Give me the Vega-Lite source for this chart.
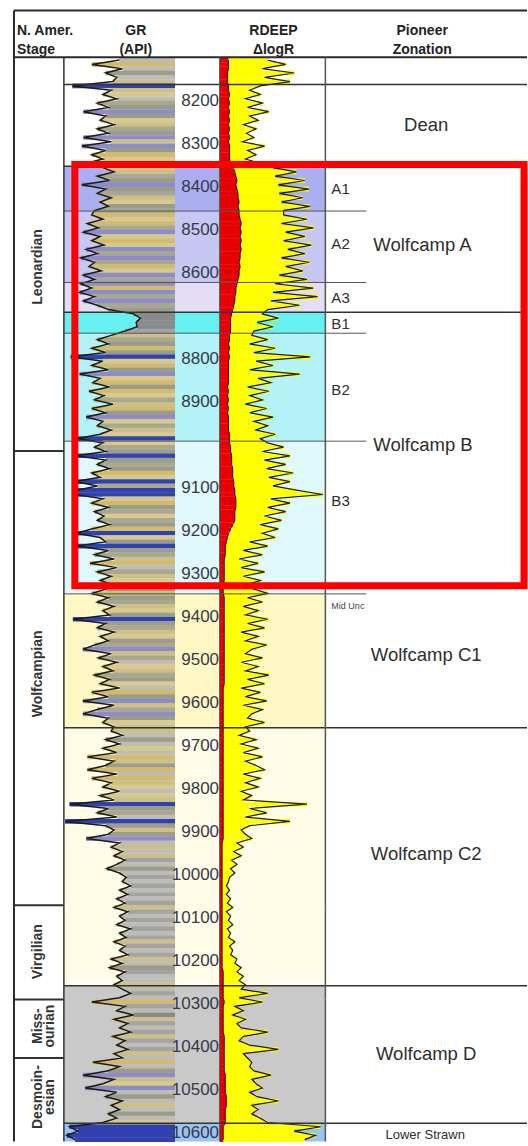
{
  "$schema": "https://vega.github.io/schema/vega-lite/v6.json",
  "width": 528,
  "height": 1146,
  "autosize": {"type": "fit", "contains": "padding"},
  "padding": 0,
  "background": "white",
  "config": {
    "view": {"stroke": null},
    "bar": {"continuousBandSize": 4.6},
    "text": {"font": "Liberation Sans"}
  },
  "datasets": {
    "log": [
      {"d":8105,"g":100,"r":45,"k":8},{"d":8115,"g":150,"r":62,"k":8},{"d":8125,"g":95,"r":40,"k":8},{"d":8135,"g":125,"r":70,"k":7},{"d":8145,"g":105,"r":42,"k":7},{"d":8155,"g":112,"r":66,"k":7},
      {"d":8165,"g":185,"r":38,"k":8},{"d":8175,"g":115,"r":28,"k":8},{"d":8185,"g":130,"r":38,"k":9},{"d":8195,"g":105,"r":24,"k":8},{"d":8205,"g":140,"r":40,"k":9},{"d":8215,"g":120,"r":26,"k":8},
      {"d":8225,"g":165,"r":46,"k":9},{"d":8235,"g":125,"r":28,"k":8},{"d":8245,"g":135,"r":36,"k":9},{"d":8255,"g":110,"r":22,"k":8},{"d":8265,"g":140,"r":34,"k":9},{"d":8275,"g":120,"r":25,"k":8},
      {"d":8285,"g":165,"r":32,"k":9},{"d":8295,"g":115,"r":21,"k":8},{"d":8305,"g":168,"r":42,"k":9},{"d":8315,"g":125,"r":26,"k":9},{"d":8325,"g":150,"r":34,"k":9},{"d":8335,"g":130,"r":24,"k":9},
      {"d":8345,"g":160,"r":38,"k":10},{"d":8355,"g":130,"r":50,"k":12},{"d":8365,"g":110,"r":72,"k":14},{"d":8375,"g":140,"r":52,"k":15},{"d":8385,"g":118,"r":80,"k":16},{"d":8395,"g":168,"r":55,"k":15},
      {"d":8405,"g":125,"r":84,"k":16},{"d":8415,"g":140,"r":56,"k":17},{"d":8425,"g":115,"r":78,"k":17},{"d":8435,"g":135,"r":58,"k":18},{"d":8445,"g":120,"r":85,"k":17},{"d":8455,"g":145,"r":60,"k":18},
      {"d":8465,"g":150,"r":60,"k":18},{"d":8475,"g":130,"r":82,"k":19},{"d":8485,"g":158,"r":58,"k":20},{"d":8495,"g":138,"r":88,"k":19},{"d":8505,"g":165,"r":62,"k":20},{"d":8515,"g":135,"r":80,"k":19},
      {"d":8525,"g":150,"r":60,"k":20},{"d":8535,"g":128,"r":86,"k":19},{"d":8545,"g":160,"r":64,"k":20},{"d":8555,"g":140,"r":80,"k":19},{"d":8565,"g":170,"r":58,"k":19},{"d":8575,"g":145,"r":84,"k":18},
      {"d":8585,"g":155,"r":62,"k":19},{"d":8595,"g":133,"r":78,"k":18},{"d":8605,"g":165,"r":56,"k":18},{"d":8615,"g":145,"r":82,"k":17},{"d":8625,"g":170,"r":52,"k":16},{"d":8635,"g":150,"r":88,"k":15},
      {"d":8645,"g":172,"r":50,"k":15},{"d":8655,"g":145,"r":92,"k":14},{"d":8665,"g":165,"r":48,"k":14},{"d":8675,"g":140,"r":75,"k":13},{"d":8685,"g":120,"r":45,"k":12},{"d":8695,"g":75,"r":40,"k":11},
      {"d":8705,"g":62,"r":55,"k":10},{"d":8715,"g":70,"r":35,"k":10},{"d":8725,"g":68,"r":50,"k":10},{"d":8735,"g":90,"r":32,"k":10},{"d":8745,"g":115,"r":30,"k":9},{"d":8755,"g":140,"r":45,"k":9},
      {"d":8765,"g":120,"r":28,"k":8},{"d":8775,"g":150,"r":52,"k":9},{"d":8785,"g":125,"r":32,"k":8},{"d":8795,"g":188,"r":85,"k":9},{"d":8805,"g":130,"r":34,"k":8},{"d":8815,"g":150,"r":50,"k":8},
      {"d":8825,"g":120,"r":28,"k":8},{"d":8835,"g":172,"r":75,"k":8},{"d":8845,"g":135,"r":36,"k":8},{"d":8855,"g":148,"r":48,"k":8},{"d":8865,"g":118,"r":26,"k":7},{"d":8875,"g":155,"r":46,"k":8},
      {"d":8885,"g":128,"r":28,"k":7},{"d":8895,"g":145,"r":40,"k":8},{"d":8905,"g":112,"r":24,"k":7},{"d":8915,"g":150,"r":44,"k":8},{"d":8925,"g":125,"r":28,"k":7},{"d":8935,"g":160,"r":50,"k":8},
      {"d":8945,"g":130,"r":32,"k":8},{"d":8955,"g":140,"r":45,"k":8},{"d":8965,"g":115,"r":34,"k":8},{"d":8975,"g":135,"r":52,"k":9},{"d":8985,"g":175,"r":38,"k":9},{"d":8995,"g":130,"r":45,"k":9},
      {"d":9005,"g":145,"r":60,"k":10},{"d":9015,"g":125,"r":40,"k":10},{"d":9025,"g":178,"r":66,"k":11},{"d":9035,"g":125,"r":42,"k":11},{"d":9045,"g":140,"r":62,"k":11},{"d":9055,"g":118,"r":44,"k":12},
      {"d":9065,"g":150,"r":69,"k":12},{"d":9075,"g":135,"r":46,"k":12},{"d":9085,"g":180,"r":66,"k":13},{"d":9095,"g":140,"r":50,"k":13},{"d":9105,"g":176,"r":72,"k":14},{"d":9115,"g":180,"r":97,"k":14},
      {"d":9125,"g":130,"r":48,"k":15},{"d":9135,"g":150,"r":66,"k":15},{"d":9145,"g":120,"r":45,"k":15},{"d":9155,"g":145,"r":62,"k":14},{"d":9165,"g":128,"r":42,"k":14},{"d":9175,"g":140,"r":58,"k":14},
      {"d":9185,"g":118,"r":38,"k":12},{"d":9195,"g":150,"r":55,"k":10},{"d":9205,"g":178,"r":40,"k":8},{"d":9215,"g":135,"r":52,"k":7},{"d":9225,"g":125,"r":28,"k":6},{"d":9235,"g":178,"r":45,"k":5},
      {"d":9245,"g":120,"r":22,"k":5},{"d":9255,"g":145,"r":40,"k":5},{"d":9265,"g":110,"r":18,"k":4},{"d":9275,"g":153,"r":36,"k":4},{"d":9285,"g":105,"r":20,"k":4},{"d":9295,"g":140,"r":42,"k":4},
      {"d":9305,"g":115,"r":22,"k":4},{"d":9315,"g":135,"r":38,"k":4},{"d":9325,"g":110,"r":24,"k":3},{"d":9335,"g":125,"r":32,"k":3},{"d":9345,"g":150,"r":45,"k":3},{"d":9355,"g":120,"r":26,"k":4},
      {"d":9365,"g":140,"r":40,"k":4},{"d":9375,"g":110,"r":22,"k":4},{"d":9385,"g":130,"r":36,"k":4},{"d":9395,"g":118,"r":24,"k":4},{"d":9405,"g":184,"r":45,"k":4},{"d":9415,"g":125,"r":26,"k":4},
      {"d":9425,"g":140,"r":42,"k":4},{"d":9435,"g":110,"r":20,"k":4},{"d":9445,"g":135,"r":36,"k":4},{"d":9455,"g":120,"r":24,"k":4},{"d":9465,"g":145,"r":44,"k":4},{"d":9475,"g":166,"r":30,"k":4},
      {"d":9485,"g":115,"r":24,"k":4},{"d":9495,"g":138,"r":40,"k":4},{"d":9505,"g":105,"r":20,"k":4},{"d":9515,"g":130,"r":36,"k":4},{"d":9525,"g":112,"r":24,"k":4},{"d":9535,"g":145,"r":46,"k":4},
      {"d":9545,"g":118,"r":26,"k":4},{"d":9555,"g":135,"r":42,"k":4},{"d":9565,"g":100,"r":20,"k":3},{"d":9575,"g":150,"r":38,"k":3},{"d":9585,"g":120,"r":24,"k":3},{"d":9595,"g":166,"r":44,"k":3},
      {"d":9605,"g":110,"r":22,"k":3},{"d":9615,"g":140,"r":40,"k":3},{"d":9625,"g":166,"r":30,"k":3},{"d":9635,"g":120,"r":26,"k":3},{"d":9645,"g":130,"r":42,"k":3},{"d":9655,"g":110,"r":24,"k":3},
      {"d":9665,"g":115,"r":28,"k":3},{"d":9675,"g":95,"r":18,"k":3},{"d":9685,"g":125,"r":34,"k":3},{"d":9695,"g":100,"r":20,"k":3},{"d":9705,"g":130,"r":36,"k":3},{"d":9715,"g":105,"r":22,"k":3},
      {"d":9725,"g":158,"r":40,"k":3},{"d":9735,"g":110,"r":24,"k":3},{"d":9745,"g":125,"r":34,"k":3},{"d":9755,"g":158,"r":42,"k":3},{"d":9765,"g":105,"r":22,"k":3},{"d":9775,"g":150,"r":38,"k":3},
      {"d":9785,"g":115,"r":24,"k":3},{"d":9795,"g":130,"r":36,"k":3},{"d":9805,"g":100,"r":20,"k":3},{"d":9815,"g":135,"r":30,"k":3},{"d":9825,"g":110,"r":22,"k":3},{"d":9835,"g":190,"r":82,"k":3},
      {"d":9845,"g":120,"r":28,"k":3},{"d":9855,"g":140,"r":44,"k":3},{"d":9865,"g":105,"r":24,"k":3},{"d":9875,"g":198,"r":66,"k":3},{"d":9885,"g":125,"r":28,"k":3},{"d":9895,"g":110,"r":20,"k":3},
      {"d":9905,"g":120,"r":24,"k":3},{"d":9915,"g":160,"r":30,"k":3},{"d":9925,"g":100,"r":16,"k":2},{"d":9935,"g":115,"r":22,"k":2},{"d":9945,"g":95,"r":13,"k":2},{"d":9955,"g":110,"r":20,"k":2},
      {"d":9965,"g":90,"r":11,"k":2},{"d":9975,"g":105,"r":16,"k":2},{"d":9985,"g":123,"r":10,"k":2},{"d":9995,"g":100,"r":14,"k":2},{"d":10005,"g":88,"r":9,"k":2},{"d":10015,"g":95,"r":8,"k":2},
      {"d":10025,"g":80,"r":6,"k":2},{"d":10035,"g":100,"r":9,"k":2},{"d":10045,"g":85,"r":6,"k":2},{"d":10055,"g":105,"r":10,"k":2},{"d":10065,"g":90,"r":7,"k":2},{"d":10075,"g":110,"r":12,"k":2},
      {"d":10085,"g":85,"r":6,"k":2},{"d":10095,"g":100,"r":10,"k":2},{"d":10105,"g":90,"r":8,"k":2},{"d":10115,"g":105,"r":12,"k":2},{"d":10125,"g":80,"r":7,"k":2},{"d":10135,"g":100,"r":10,"k":2},
      {"d":10145,"g":88,"r":8,"k":2},{"d":10155,"g":110,"r":14,"k":2},{"d":10165,"g":90,"r":9,"k":2},{"d":10175,"g":100,"r":12,"k":2},{"d":10185,"g":85,"r":10,"k":2},{"d":10195,"g":115,"r":16,"k":2},
      {"d":10205,"g":95,"r":14,"k":2},{"d":10215,"g":118,"r":20,"k":2},{"d":10225,"g":90,"r":16,"k":3},{"d":10235,"g":105,"r":22,"k":3},{"d":10245,"g":95,"r":18,"k":3},{"d":10255,"g":110,"r":24,"k":3},
      {"d":10265,"g":95,"r":20,"k":3},{"d":10275,"g":80,"r":45,"k":3},{"d":10285,"g":100,"r":18,"k":3},{"d":10295,"g":150,"r":40,"k":4},{"d":10305,"g":90,"r":14,"k":3},{"d":10315,"g":105,"r":22,"k":3},
      {"d":10325,"g":75,"r":12,"k":3},{"d":10335,"g":110,"r":24,"k":3},{"d":10345,"g":85,"r":16,"k":3},{"d":10355,"g":100,"r":20,"k":3},{"d":10365,"g":80,"r":45,"k":3},{"d":10375,"g":112,"r":22,"k":4},
      {"d":10385,"g":90,"r":18,"k":4},{"d":10395,"g":105,"r":28,"k":4},{"d":10405,"g":85,"r":55,"k":4},{"d":10415,"g":110,"r":22,"k":4},{"d":10425,"g":95,"r":26,"k":4},{"d":10435,"g":148,"r":30,"k":4},
      {"d":10445,"g":100,"r":28,"k":4},{"d":10455,"g":120,"r":32,"k":4},{"d":10465,"g":166,"r":48,"k":5},{"d":10475,"g":110,"r":30,"k":5},{"d":10485,"g":130,"r":34,"k":5},{"d":10495,"g":162,"r":40,"k":5},
      {"d":10505,"g":105,"r":28,"k":5},{"d":10515,"g":125,"r":35,"k":6},{"d":10525,"g":95,"r":55,"k":6},{"d":10535,"g":115,"r":30,"k":6},{"d":10545,"g":100,"r":36,"k":5},{"d":10555,"g":120,"r":30,"k":5},
      {"d":10565,"g":105,"r":38,"k":5},{"d":10575,"g":130,"r":45,"k":5},{"d":10585,"g":190,"r":95,"k":3},{"d":10595,"g":175,"r":70,"k":3},{"d":10605,"g":195,"r":90,"k":3},{"d":10615,"g":180,"r":80,"k":3}
    ],
    "zones": [
      {"zone":"A1","top":8352,"base":8456},
      {"zone":"A2","top":8456,"base":8622},
      {"zone":"A3","top":8622,"base":8691},
      {"zone":"B1","top":8691,"base":8740},
      {"zone":"B2","top":8740,"base":8991},
      {"zone":"B3","top":8991,"base":9346},
      {"zone":"C1","top":9346,"base":9657},
      {"zone":"C2","top":9657,"base":10257},
      {"zone":"D","top":10257,"base":10577},
      {"zone":"Lower Strawn","top":10577,"base":10619}
    ],
    "lines": [
      {"d":7990,"kind":"frame"},{"d":8098.5,"kind":"frame"},
      {"d":8162,"kind":"full"},{"d":8352,"kind":"full"},{"d":8691,"kind":"full"},{"d":9657,"kind":"full"},{"d":10257,"kind":"full"},{"d":10577,"kind":"full"},
      {"d":8456,"kind":"part"},{"d":8622,"kind":"part"},{"d":8740,"kind":"part"},{"d":8991,"kind":"part"},{"d":9346,"kind":"part"}
    ],
    "stages": [
      {"stage":"Leonardian","top":8098.5,"base":9014,"mid":8586},
      {"stage":"Wolfcampian","top":9014,"base":10070,"mid":9532},
      {"stage":"Virgilian","top":10070,"base":10289,"mid":10178},
      {"stage":"Miss-\nourian","top":10289,"base":10425,"mid":10351},
      {"stage":"Desmoin-\nesian","top":10425,"base":10619,"mid":10516}
    ],
    "depths": [
      {"depth":8200},{"depth":8300},{"depth":8400},{"depth":8500},{"depth":8600},{"depth":8800},{"depth":8900},{"depth":9100},{"depth":9200},{"depth":9300},{"depth":9400},{"depth":9500},
      {"depth":9600},{"depth":9700},{"depth":9800},{"depth":9900},{"depth":10000},{"depth":10100},{"depth":10200},{"depth":10300},{"depth":10400},{"depth":10500},{"depth":10600}
    ],
    "headers": [
      {"col":"stage","text":"N. Amer.\nStage"},
      {"col":"gr","text":"GR\n(API)"},
      {"col":"rd","text":"RDEEP\nΔlogR"},
      {"col":"zone","text":"Pioneer\nZonation"}
    ],
    "zlabels": [
      {"text":"Dean","d":8256,"kind":"main"},
      {"text":"A1","d":8405,"kind":"sub"},
      {"text":"A2","d":8532,"kind":"sub"},
      {"text":"Wolfcamp A","d":8534,"kind":"group"},
      {"text":"A3","d":8659,"kind":"sub"},
      {"text":"B1","d":8719,"kind":"sub"},
      {"text":"B2","d":8871,"kind":"sub"},
      {"text":"Wolfcamp B","d":9000,"kind":"group"},
      {"text":"B3","d":9129,"kind":"sub"},
      {"text":"Mid Unc","d":9374,"kind":"note"},
      {"text":"Wolfcamp C1","d":9487,"kind":"main"},
      {"text":"Wolfcamp C2","d":9950,"kind":"main"},
      {"text":"Wolfcamp D","d":10416,"kind":"main"},
      {"text":"Lower Strawn","d":10603,"kind":"base"}
    ],
    "box": [{"top":8348,"base":9327}]
  },
  "resolve": {"scale": {"x": "independent", "color": "independent"}},
  "layer": [
    {
      "data": {"name": "zones"},
      "mark": {"type": "rect"},
      "encoding": {
        "x": {"datum": 64, "type": "quantitative", "axis": null, "scale": {"domain": [0, 528], "nice": false, "zero": false}},
        "x2": {"datum": 326},
        "y": {"field": "top", "type": "quantitative", "axis": null, "scale": {"domain": [7976, 10619], "reverse": true, "nice": false, "zero": false}},
        "y2": {"field": "base"},
        "color": {"field": "zone", "type": "nominal", "legend": null,
          "scale": {"domain": ["A1","A2","A3","B1","B2","B3","C1","C2","D","Lower Strawn"],
                    "range": ["#abaef0","#c7c7f4","#e3def6","#66f0f2","#b3f3f8","#e0f9fd","#fff8c4","#fffde8","#c9c9c9","#98c4f0"]}}
      }
    },
    {
      "data": {"name": "log"},
      "mark": {"type": "bar", "orient": "horizontal"},
      "encoding": {
        "x": {"field": "g", "type": "quantitative", "axis": null, "scale": {"domain": [0, 200], "range": [175, 64], "nice": false, "zero": false}},
        "x2": {"datum": 0},
        "y": {"field": "d", "type": "quantitative", "axis": null, "scale": {"domain": [7976, 10619], "reverse": true, "nice": false, "zero": false}},
        "color": {"field": "g", "type": "quantitative", "legend": null,
          "scale": {"type": "threshold", "domain": [78, 95, 108, 118, 128, 138, 148, 160, 174],
                    "range": ["#8a8a8a", "#a3a3a3", "#bdbdb5", "#cdbf88", "#9c9c8a", "#d8c98e", "#a9a790", "#d2bb6e", "#8c8cc8", "#3141b0"]}}
      }
    },
    {
      "data": {"name": "log"},
      "mark": {"type": "line", "color": "#1c1c10", "strokeWidth": 1.5},
      "encoding": {
        "x": {"field": "g", "type": "quantitative", "axis": null, "scale": {"domain": [0, 200], "range": [175, 64], "nice": false, "zero": false}},
        "y": {"field": "d", "type": "quantitative", "axis": null, "scale": {"domain": [7976, 10619], "reverse": true, "nice": false, "zero": false}},
        "order": {"field": "d", "type": "quantitative"}
      }
    },
    {
      "data": {"name": "log"},
      "mark": {"type": "bar", "orient": "horizontal", "color": "#ffff00"},
      "encoding": {
        "x": {"field": "r", "type": "quantitative", "axis": null, "scale": {"domain": [0, 100], "range": [220, 326], "nice": false, "zero": false}},
        "x2": {"field": "k"},
        "y": {"field": "d", "type": "quantitative", "axis": null, "scale": {"domain": [7976, 10619], "reverse": true, "nice": false, "zero": false}}
      }
    },
    {
      "data": {"name": "log"},
      "mark": {"type": "bar", "orient": "horizontal", "color": "#e60000"},
      "encoding": {
        "x": {"field": "k", "type": "quantitative", "axis": null, "scale": {"domain": [0, 100], "range": [220, 326], "nice": false, "zero": false}},
        "x2": {"datum": 0},
        "y": {"field": "d", "type": "quantitative", "axis": null, "scale": {"domain": [7976, 10619], "reverse": true, "nice": false, "zero": false}}
      }
    },
    {
      "data": {"name": "log"},
      "mark": {"type": "line", "color": "#1e1e00", "strokeWidth": 1.2},
      "encoding": {
        "x": {"field": "r", "type": "quantitative", "axis": null, "scale": {"domain": [0, 100], "range": [220, 326], "nice": false, "zero": false}},
        "y": {"field": "d", "type": "quantitative", "axis": null, "scale": {"domain": [7976, 10619], "reverse": true, "nice": false, "zero": false}},
        "order": {"field": "d", "type": "quantitative"}
      }
    },
    {
      "data": {"name": "log"},
      "mark": {"type": "line", "color": "#3a0000", "strokeWidth": 1},
      "encoding": {
        "x": {"field": "k", "type": "quantitative", "axis": null, "scale": {"domain": [0, 100], "range": [220, 326], "nice": false, "zero": false}},
        "y": {"field": "d", "type": "quantitative", "axis": null, "scale": {"domain": [7976, 10619], "reverse": true, "nice": false, "zero": false}},
        "order": {"field": "d", "type": "quantitative"}
      }
    },
    {
      "data": {"name": "lines"},
      "transform": [{"filter": "datum.kind == 'frame'"}],
      "mark": {"type": "rule", "color": "#2a2a2a", "strokeWidth": 2},
      "encoding": {
        "x": {"datum": 14, "type": "quantitative", "axis": null, "scale": {"domain": [0, 528], "nice": false, "zero": false}},
        "x2": {"datum": 528},
        "y": {"field": "d", "type": "quantitative", "axis": null, "scale": {"domain": [7976, 10619], "reverse": true, "nice": false, "zero": false}}
      }
    },
    {
      "data": {"name": "lines"},
      "transform": [{"filter": "datum.kind == 'full'"}],
      "mark": {"type": "rule", "color": "#333333", "strokeWidth": 1.5},
      "encoding": {
        "x": {"datum": 64, "type": "quantitative", "axis": null, "scale": {"domain": [0, 528], "nice": false, "zero": false}},
        "x2": {"datum": 528},
        "y": {"field": "d", "type": "quantitative", "axis": null, "scale": {"domain": [7976, 10619], "reverse": true, "nice": false, "zero": false}}
      }
    },
    {
      "data": {"name": "lines"},
      "transform": [{"filter": "datum.kind == 'part'"}],
      "mark": {"type": "rule", "color": "#555555", "strokeWidth": 1},
      "encoding": {
        "x": {"datum": 64, "type": "quantitative", "axis": null, "scale": {"domain": [0, 528], "nice": false, "zero": false}},
        "x2": {"datum": 367},
        "y": {"field": "d", "type": "quantitative", "axis": null, "scale": {"domain": [7976, 10619], "reverse": true, "nice": false, "zero": false}}
      }
    },
    {
      "data": {"name": "stages"},
      "transform": [{"filter": "datum.base < 10600"}],
      "mark": {"type": "rule", "color": "#333333", "strokeWidth": 2},
      "encoding": {
        "x": {"datum": 14, "type": "quantitative", "axis": null, "scale": {"domain": [0, 528], "nice": false, "zero": false}},
        "x2": {"datum": 64},
        "y": {"field": "base", "type": "quantitative", "axis": null, "scale": {"domain": [7976, 10619], "reverse": true, "nice": false, "zero": false}}
      }
    },
    {
      "data": {"name": "stages"},
      "mark": {"type": "rule", "color": "#333333", "strokeWidth": 1.5},
      "encoding": {
        "x": {"datum": 64, "type": "quantitative", "axis": null, "scale": {"domain": [0, 528], "nice": false, "zero": false}},
        "y": {"field": "top", "type": "quantitative", "axis": null, "scale": {"domain": [7976, 10619], "reverse": true, "nice": false, "zero": false}},
        "y2": {"field": "base"}
      }
    },
    {
      "data": {"name": "stages"},
      "mark": {"type": "rule", "color": "#555555", "strokeWidth": 1},
      "encoding": {
        "x": {"datum": 220, "type": "quantitative", "axis": null, "scale": {"domain": [0, 528], "nice": false, "zero": false}},
        "y": {"field": "top", "type": "quantitative", "axis": null, "scale": {"domain": [7976, 10619], "reverse": true, "nice": false, "zero": false}},
        "y2": {"field": "base"}
      }
    },
    {
      "data": {"name": "stages"},
      "mark": {"type": "rule", "color": "#555555", "strokeWidth": 1.5},
      "encoding": {
        "x": {"datum": 326, "type": "quantitative", "axis": null, "scale": {"domain": [0, 528], "nice": false, "zero": false}},
        "y": {"field": "top", "type": "quantitative", "axis": null, "scale": {"domain": [7976, 10619], "reverse": true, "nice": false, "zero": false}},
        "y2": {"field": "base"}
      }
    },
    {
      "data": {"name": "lines"},
      "transform": [{"filter": "datum.d < 8000"}],
      "mark": {"type": "rule", "color": "#2a2a2a", "strokeWidth": 2},
      "encoding": {
        "x": {"datum": 14, "type": "quantitative", "axis": null, "scale": {"domain": [0, 528], "nice": false, "zero": false}},
        "y": {"field": "d", "type": "quantitative", "axis": null, "scale": {"domain": [7976, 10619], "reverse": true, "nice": false, "zero": false}},
        "y2": {"datum": 10619}
      }
    },
    {
      "data": {"name": "box"},
      "mark": {"type": "rect", "filled": false, "color": "#ff0000", "strokeWidth": 7},
      "encoding": {
        "x": {"datum": 75, "type": "quantitative", "axis": null, "scale": {"domain": [0, 528], "nice": false, "zero": false}},
        "x2": {"datum": 525},
        "y": {"field": "top", "type": "quantitative", "axis": null, "scale": {"domain": [7976, 10619], "reverse": true, "nice": false, "zero": false}},
        "y2": {"field": "base"}
      }
    },
    {
      "data": {"name": "depths"},
      "mark": {"type": "text", "align": "right", "baseline": "middle", "fontSize": 17, "color": "#383848"},
      "encoding": {
        "x": {"datum": 219.5, "type": "quantitative", "axis": null, "scale": {"domain": [0, 528], "nice": false, "zero": false}},
        "y": {"field": "depth", "type": "quantitative", "axis": null, "scale": {"domain": [7976, 10619], "reverse": true, "nice": false, "zero": false}},
        "text": {"field": "depth", "type": "quantitative", "format": "d"}
      }
    },
    {
      "data": {"name": "headers"},
      "transform": [{"filter": "datum.col == 'stage'"}],
      "mark": {"type": "text", "align": "left", "baseline": "middle", "fontSize": 14, "fontWeight": "bold", "lineBreak": "\n", "lineHeight": 19, "color": "#222222"},
      "encoding": {
        "x": {"datum": 17, "type": "quantitative", "axis": null, "scale": {"domain": [0, 528], "nice": false, "zero": false}},
        "y": {"datum": 8037, "type": "quantitative", "axis": null, "scale": {"domain": [7976, 10619], "reverse": true, "nice": false, "zero": false}},
        "text": {"field": "text", "type": "nominal"}
      }
    },
    {
      "data": {"name": "headers"},
      "transform": [{"filter": "datum.col == 'gr'"}],
      "mark": {"type": "text", "align": "center", "baseline": "middle", "fontSize": 14, "fontWeight": "bold", "lineBreak": "\n", "lineHeight": 19, "color": "#222222"},
      "encoding": {
        "x": {"datum": 136, "type": "quantitative", "axis": null, "scale": {"domain": [0, 528], "nice": false, "zero": false}},
        "y": {"datum": 8037, "type": "quantitative", "axis": null, "scale": {"domain": [7976, 10619], "reverse": true, "nice": false, "zero": false}},
        "text": {"field": "text", "type": "nominal"}
      }
    },
    {
      "data": {"name": "headers"},
      "transform": [{"filter": "datum.col == 'rd'"}],
      "mark": {"type": "text", "align": "center", "baseline": "middle", "fontSize": 14, "fontWeight": "bold", "lineBreak": "\n", "lineHeight": 19, "color": "#222222"},
      "encoding": {
        "x": {"datum": 274, "type": "quantitative", "axis": null, "scale": {"domain": [0, 528], "nice": false, "zero": false}},
        "y": {"datum": 8037, "type": "quantitative", "axis": null, "scale": {"domain": [7976, 10619], "reverse": true, "nice": false, "zero": false}},
        "text": {"field": "text", "type": "nominal"}
      }
    },
    {
      "data": {"name": "headers"},
      "transform": [{"filter": "datum.col == 'zone'"}],
      "mark": {"type": "text", "align": "center", "baseline": "middle", "fontSize": 14, "fontWeight": "bold", "lineBreak": "\n", "lineHeight": 19, "color": "#222222"},
      "encoding": {
        "x": {"datum": 423, "type": "quantitative", "axis": null, "scale": {"domain": [0, 528], "nice": false, "zero": false}},
        "y": {"datum": 8037, "type": "quantitative", "axis": null, "scale": {"domain": [7976, 10619], "reverse": true, "nice": false, "zero": false}},
        "text": {"field": "text", "type": "nominal"}
      }
    },
    {
      "data": {"name": "stages"},
      "mark": {"type": "text", "angle": 270, "align": "center", "baseline": "middle", "fontSize": 14, "fontWeight": "bold", "lineBreak": "\n", "lineHeight": 12, "color": "#333333"},
      "encoding": {
        "x": {"datum": 38, "type": "quantitative", "axis": null, "scale": {"domain": [0, 528], "nice": false, "zero": false}},
        "y": {"field": "mid", "type": "quantitative", "axis": null, "scale": {"domain": [7976, 10619], "reverse": true, "nice": false, "zero": false}},
        "text": {"field": "stage", "type": "nominal"}
      }
    },
    {
      "data": {"name": "zlabels"},
      "transform": [{"filter": "datum.kind == 'main'"}],
      "mark": {"type": "text", "align": "center", "baseline": "middle", "fontSize": 18.5, "color": "#2e2e2e"},
      "encoding": {
        "x": {"datum": 427, "type": "quantitative", "axis": null, "scale": {"domain": [0, 528], "nice": false, "zero": false}},
        "y": {"field": "d", "type": "quantitative", "axis": null, "scale": {"domain": [7976, 10619], "reverse": true, "nice": false, "zero": false}},
        "text": {"field": "text", "type": "nominal"}
      }
    },
    {
      "data": {"name": "zlabels"},
      "transform": [{"filter": "datum.kind == 'group'"}],
      "mark": {"type": "text", "align": "left", "baseline": "middle", "fontSize": 18.5, "color": "#2e2e2e"},
      "encoding": {
        "x": {"datum": 374, "type": "quantitative", "axis": null, "scale": {"domain": [0, 528], "nice": false, "zero": false}},
        "y": {"field": "d", "type": "quantitative", "axis": null, "scale": {"domain": [7976, 10619], "reverse": true, "nice": false, "zero": false}},
        "text": {"field": "text", "type": "nominal"}
      }
    },
    {
      "data": {"name": "zlabels"},
      "transform": [{"filter": "datum.kind == 'sub'"}],
      "mark": {"type": "text", "align": "left", "baseline": "middle", "fontSize": 15, "color": "#2e2e2e"},
      "encoding": {
        "x": {"datum": 332, "type": "quantitative", "axis": null, "scale": {"domain": [0, 528], "nice": false, "zero": false}},
        "y": {"field": "d", "type": "quantitative", "axis": null, "scale": {"domain": [7976, 10619], "reverse": true, "nice": false, "zero": false}},
        "text": {"field": "text", "type": "nominal"}
      }
    },
    {
      "data": {"name": "zlabels"},
      "transform": [{"filter": "datum.kind == 'note'"}],
      "mark": {"type": "text", "align": "left", "baseline": "middle", "fontSize": 9, "color": "#444444"},
      "encoding": {
        "x": {"datum": 332, "type": "quantitative", "axis": null, "scale": {"domain": [0, 528], "nice": false, "zero": false}},
        "y": {"field": "d", "type": "quantitative", "axis": null, "scale": {"domain": [7976, 10619], "reverse": true, "nice": false, "zero": false}},
        "text": {"field": "text", "type": "nominal"}
      }
    },
    {
      "data": {"name": "zlabels"},
      "transform": [{"filter": "datum.kind == 'base'"}],
      "mark": {"type": "text", "align": "center", "baseline": "middle", "fontSize": 13, "color": "#2e2e2e"},
      "encoding": {
        "x": {"datum": 426, "type": "quantitative", "axis": null, "scale": {"domain": [0, 528], "nice": false, "zero": false}},
        "y": {"field": "d", "type": "quantitative", "axis": null, "scale": {"domain": [7976, 10619], "reverse": true, "nice": false, "zero": false}},
        "text": {"field": "text", "type": "nominal"}
      }
    }
  ]
}
